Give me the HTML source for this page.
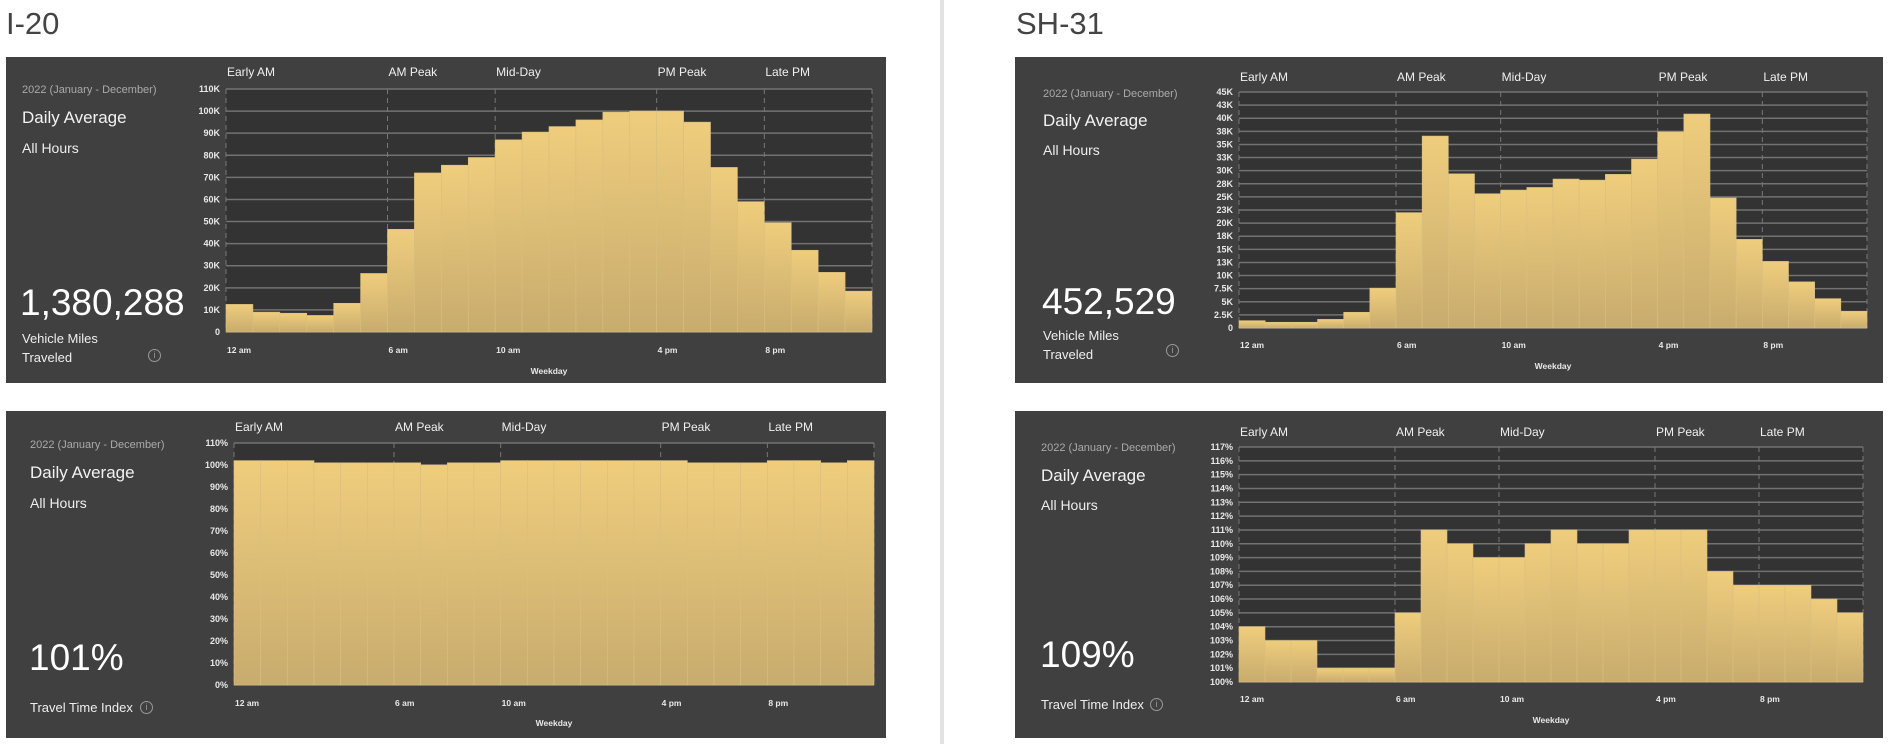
<!DOCTYPE html>
<html><head><meta charset="utf-8">
<style>
body{margin:0;width:1888px;height:744px;background:#fff;position:relative;overflow:hidden;font-family:"Liberation Sans",sans-serif}
.abs{position:absolute;white-space:nowrap}
.title{font-size:31px;color:#444;font-weight:300}
.panel{position:absolute;background:#404040}
.date{font-size:11px;color:#aaa}
.da{font-size:17px;color:#f2f2f2}
.ah{font-size:14px;color:#eee}
.big{font-size:37px;color:#fff}
.lab{font-size:13px;color:#eee;line-height:19px}
.info{width:11px;height:11px;border:1px solid #999;border-radius:50%;font-size:9px;color:#999;text-align:center;line-height:11px}
</style></head><body>
<div class="abs title" style="left:6px;top:6px">I-20</div>
<div class="abs title" style="left:1016px;top:6px">SH-31</div>
<div class="abs" style="left:940px;top:0;width:4px;height:744px;background:#e2e2e2"></div>

<div class="panel" style="left:6px;top:57px;width:880px;height:326px"></div>
<div class="panel" style="left:1015px;top:57px;width:868px;height:326px"></div>
<div class="panel" style="left:6px;top:411px;width:880px;height:327px"></div>
<div class="panel" style="left:1015px;top:411px;width:868px;height:327px"></div>

<!-- I-20 VMT text -->
<div class="abs date" style="left:22px;top:84px">2022 (January - December)</div>
<div class="abs da" style="left:22px;top:108px">Daily Average</div>
<div class="abs ah" style="left:22px;top:140px">All Hours</div>
<div class="abs big" style="left:20px;top:282px">1,380,288</div>
<div class="abs lab" style="left:22px;top:329px">Vehicle Miles<br>Traveled</div>
<div class="abs info" style="left:148px;top:349px">i</div>

<!-- SH-31 VMT text -->
<div class="abs date" style="left:1043px;top:88px">2022 (January - December)</div>
<div class="abs da" style="left:1043px;top:111px">Daily Average</div>
<div class="abs ah" style="left:1043px;top:142px">All Hours</div>
<div class="abs big" style="left:1042px;top:281px">452,529</div>
<div class="abs lab" style="left:1043px;top:326px">Vehicle Miles<br>Traveled</div>
<div class="abs info" style="left:1166px;top:344px">i</div>

<!-- I-20 TTI text -->
<div class="abs date" style="left:30px;top:439px">2022 (January - December)</div>
<div class="abs da" style="left:30px;top:463px">Daily Average</div>
<div class="abs ah" style="left:30px;top:495px">All Hours</div>
<div class="abs big" style="left:29px;top:637px">101%</div>
<div class="abs lab" style="left:30px;top:698px">Travel Time Index</div>
<div class="abs info" style="left:140px;top:701px">i</div>

<!-- SH-31 TTI text -->
<div class="abs date" style="left:1041px;top:442px">2022 (January - December)</div>
<div class="abs da" style="left:1041px;top:466px">Daily Average</div>
<div class="abs ah" style="left:1041px;top:497px">All Hours</div>
<div class="abs big" style="left:1040px;top:634px">109%</div>
<div class="abs lab" style="left:1041px;top:695px">Travel Time Index</div>
<div class="abs info" style="left:1150px;top:698px">i</div>

<svg id="charts" width="1888" height="744" style="position:absolute;left:0;top:0">
<defs><linearGradient id="gold" x1="0" y1="0" x2="0" y2="1"><stop offset="0" stop-color="#efcd7d"/><stop offset="1" stop-color="#c8ac6e"/></linearGradient></defs>
</svg>

<script>
const hours = ["12a","1a","2a","3a","4a","5a","6a","7a","8a","9a","10a","11a","12p","1p","2p","3p","4p","5p","6p","7p","8p","9p","10p","11p"];
const bandNames = ["Early AM","AM Peak","Mid-Day","PM Peak","Late PM"];
const bandStarts = [0,6,10,16,20];
const xTickLabels = ["12 am","6 am","10 am","4 pm","8 pm"];
const i20Vmt = [12500,9000,8500,7500,13000,26500,46500,72000,75500,79000,87000,90500,93000,96000,99500,100000,100000,95000,74500,59000,49500,37000,27000,18500];
const sh31Vmt = [1400,1100,1100,1650,3000,7600,22000,36600,29400,25600,26300,26800,28400,28200,29300,32200,37400,40800,24800,16900,12700,8800,5600,3200];
const i20Tti = [102,102,102,101,101,101,101,100,101,101,102,102,102,102,102,102,102,101,101,101,102,102,101,102];
const sh31Tti = [104,103,103,101,101,101,105,111,110,109,109,110,111,110,110,111,111,111,108,107,107,107,106,105];
const i20VmtTicks = [0,10000,20000,30000,40000,50000,60000,70000,80000,90000,100000,110000];
const i20VmtTickLabels = ["0","10K","20K","30K","40K","50K","60K","70K","80K","90K","100K","110K"];
const sh31VmtTicks = [0,2500,5000,7500,10000,12500,15000,17500,20000,22500,25000,27500,30000,32500,35000,37500,40000,42500,45000];
const sh31VmtTickLabels = ["0","2.5K","5K","7.5K","10K","13K","15K","18K","20K","23K","25K","28K","30K","33K","35K","38K","40K","43K","45K"];
const i20TtiTicks = [0,10,20,30,40,50,60,70,80,90,100,110];
const i20TtiTickLabels = ["0%","10%","20%","30%","40%","50%","60%","70%","80%","90%","100%","110%"];
const sh31TtiTicks = [100,101,102,103,104,105,106,107,108,109,110,111,112,113,114,115,116,117];
const sh31TtiTickLabels = ["100%","101%","102%","103%","104%","105%","106%","107%","108%","109%","110%","111%","112%","113%","114%","115%","116%","117%"];

const svg = document.getElementById('charts');
const NS = 'http://www.w3.org/2000/svg';
function mk(tag, attrs, parent){
  const e = document.createElementNS(NS, tag);
  for (const k in attrs) e.setAttribute(k, attrs[k]);
  parent.appendChild(e);
  return e;
}
function draw(name, L, vals, ticks, tickLabels){
  const g = mk('g', {}, svg);
  
  
  const min = ticks[0], max = ticks[ticks.length-1];
  const xs = i => L.x0 + (L.x1 - L.x0) * i / hours.length;
  const ys = v => L.yb - (L.yb - L.yt) * (v - min) / (max - min);
  const bg = mk('rect', {x:L.x0, y:L.yt, width:L.x1-L.x0, height:L.yb-L.yt, fill:'#333333'}, g);
  
  
  ticks.forEach((t, i) => {
    const ln = mk('line', {x1:L.x0, x2:L.x1, y1:ys(t), y2:ys(t), stroke:'#727272', 'stroke-width':1.5}, g);
    
    
    const tx = mk('text', {x:L.x0-6, y:ys(t)+3, 'text-anchor':'end', 'font-size':9, 'font-weight':'bold', fill:'#e8e8e8'}, g);
    
    
    tx.textContent = tickLabels[i];
  });
  const bl = bandStarts.concat([hours.length]);
  bl.forEach(b => {
    const ln = mk('line', {x1:xs(b), x2:xs(b), y1:L.yt, y2:L.yb, stroke:'#777', 'stroke-width':1, 'stroke-dasharray':'5,4'}, g);
    
    
  });
  vals.forEach((v, i) => {
    const r = mk('rect', {x:xs(i), y:ys(v), width:xs(i+1)-xs(i), height:L.yb-ys(v), fill:'url(#gold)', stroke:'#d9bf7e', 'stroke-width':0.6}, g);
    
    
  });
  bandStarts.forEach((b, i) => {
    const t = mk('text', {x:xs(b)+1, y:L.bandY, 'font-size':12, fill:'#f0f0f0'}, g);
    
    
    t.textContent = bandNames[i];
    const x = mk('text', {x:xs(b)+1, y:L.xlY, 'font-size':8.5, 'font-weight':'bold', fill:'#e8e8e8'}, g);
    
    
    x.textContent = xTickLabels[i];
  });
  const w = mk('text', {x:(L.x0+L.x1)/2, y:L.wkY, 'text-anchor':'middle', 'font-size':8.5, 'font-weight':'bold', fill:'#e8e8e8'}, g);
  
  
  w.textContent = 'Weekday';
}
draw('i20-vmt-chart', {x0:226,x1:872,yt:89,yb:332,bandY:76,xlY:353,wkY:374}, i20Vmt, i20VmtTicks, i20VmtTickLabels);
draw('sh31-vmt-chart', {x0:1239,x1:1867,yt:92,yb:328,bandY:81,xlY:348,wkY:369}, sh31Vmt, sh31VmtTicks, sh31VmtTickLabels);
draw('i20-tti-chart', {x0:234,x1:874,yt:443,yb:685,bandY:431,xlY:706,wkY:726}, i20Tti, i20TtiTicks, i20TtiTickLabels);
draw('sh31-tti-chart', {x0:1239,x1:1863,yt:447,yb:682,bandY:436,xlY:702,wkY:723}, sh31Tti, sh31TtiTicks, sh31TtiTickLabels);
</script>
</body></html>
